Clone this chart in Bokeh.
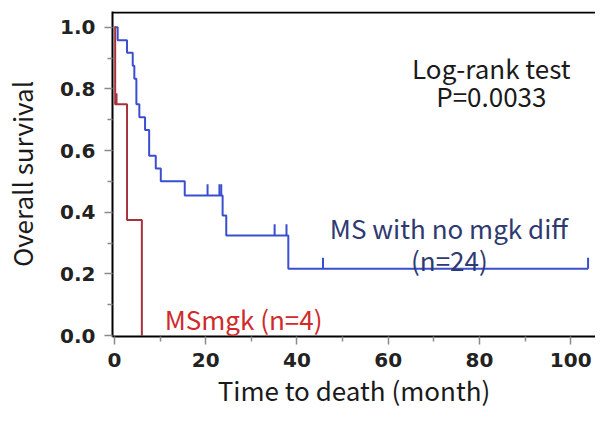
import numpy as np
from bokeh.plotting import figure
from bokeh.models import Range1d, FixedTicker, PrintfTickFormatter, Label, Span
from bokeh.embed import file_html
from bokeh.resources import INLINE

# ---- data ----
# MS with no mgk diff (n=24): step times (month) and survival after each step
blue_t = [0, 0.7, 2.75, 4.0, 4.35, 4.8, 5.45, 6.7, 7.6, 9.05, 10.15, 15.4, 23.7, 24.5, 38.1]
blue_s = [1.0, 0.958, 0.917, 0.875, 0.833, 0.750, 0.708, 0.667, 0.583, 0.542, 0.500, 0.4545, 0.3896, 0.3247, 0.2165]
blue_end = 103.8
blue_censor = [20.4, 23.0, 23.4, 35.1, 37.7, 45.7, 103.8]

# MSmgk (n=4)
red_t = [0, 0.15, 2.75, 6.0]
red_s = [1.0, 0.75, 0.375, 0.0]
red_censor = [0.45]

x_ticks = [0, 20, 40, 60, 80, 100]
x_minor = [10, 30, 50, 70, 90]
y_ticks = [0.0, 0.2, 0.4, 0.6, 0.8, 1.0]
y_minor = [0.1, 0.3, 0.5, 0.7, 0.9]

BLUE = "#3a4ed0"
RED = "#a8323c"
FONT = "Noto Sans CJK JP"

p = figure(width=595, height=410, output_backend="svg", toolbar_location=None,
           x_range=Range1d(-0.435, 105.43), y_range=Range1d(-0.0032, 1.051),
           min_border_left=108, min_border_right=0, min_border_top=11, min_border_bottom=74)
p.outline_line_color = None
p.xgrid.grid_line_color = None
p.ygrid.grid_line_color = None
p.background_fill_color = "white"
p.border_fill_color = "white"

def style_axis(ax):
    ax.axis_line_color = "black"
    ax.axis_line_width = 2
    ax.major_tick_out = 8
    ax.major_tick_in = 0
    ax.minor_tick_out = 5
    ax.minor_tick_in = 0
    ax.major_tick_line_color = "#8a8a8a"
    ax.minor_tick_line_color = "#8a8a8a"
    ax.major_tick_line_width = 1.5
    ax.minor_tick_line_width = 1.5
    ax.major_label_text_font = "DejaVu Sans"
    ax.major_label_text_font_style = "bold"
    ax.major_label_text_font_size = "20px"
    ax.major_label_text_color = "#222222"
    ax.axis_label_text_font = FONT
    ax.axis_label_text_font_style = "normal"
    ax.axis_label_text_font_size = "26px"
    ax.axis_label_text_color = "#1a1a1a"

p.xaxis.ticker = FixedTicker(ticks=x_ticks, minor_ticks=x_minor)
p.yaxis.ticker = FixedTicker(ticks=y_ticks, minor_ticks=y_minor)
p.yaxis.formatter = PrintfTickFormatter(format="%.1f")
style_axis(p.xaxis[0])
style_axis(p.yaxis[0])
p.xaxis.axis_label = "Time to death (month)"
p.yaxis.axis_label = "Overall survival"
p.xaxis.major_label_standoff = 8
p.yaxis.major_label_standoff = 9
p.xaxis.axis_label_standoff = 1
p.yaxis.axis_label_standoff = 17

# top frame line
p.add_layout(Span(location=p.y_range.end - 0.003, dimension="width", line_color="black", line_width=2))

# survival curves
p.step(x=blue_t + [blue_end], y=blue_s + [blue_s[-1]], mode="after", line_color=BLUE, line_width=2)
p.step(x=red_t, y=red_s, mode="after", line_color=RED, line_width=2)

tick_h = 0.036
def censor_y(times, t_steps, s_steps):
    idx = np.searchsorted(np.array(t_steps), np.array(times), side="right") - 1
    return np.array(s_steps)[idx]

bc_y = censor_y(blue_censor, blue_t, blue_s)
p.segment(x0=blue_censor, y0=bc_y, x1=blue_censor, y1=bc_y + tick_h, line_color=BLUE, line_width=2)
rc_y = censor_y(red_censor, red_t, red_s)
p.segment(x0=red_censor, y0=rc_y, x1=red_censor, y1=rc_y + tick_h, line_color=RED, line_width=2)

# annotations
def lab(x, y, text, color, align="center", size="26px"):
    p.add_layout(Label(x=x, y=y, text=text, text_align=align, text_baseline="alphabetic",
                       text_font=FONT, text_font_size=size, text_color=color))

lab(82.6, 0.870, "Log-rank test", "#1a1a1a")
lab(82.6, 0.778, "P=0.0033", "#1a1a1a")
lab(73.3, 0.350, "MS with no mgk diff", "#2e3a70")
lab(73.4, 0.2465, "(n=24)", "#2e3a70")
lab(11.0, 0.055, "MSmgk (n=4)", "#d02a2a", align="left")

open("out.html", "w").write(file_html(p, INLINE))
